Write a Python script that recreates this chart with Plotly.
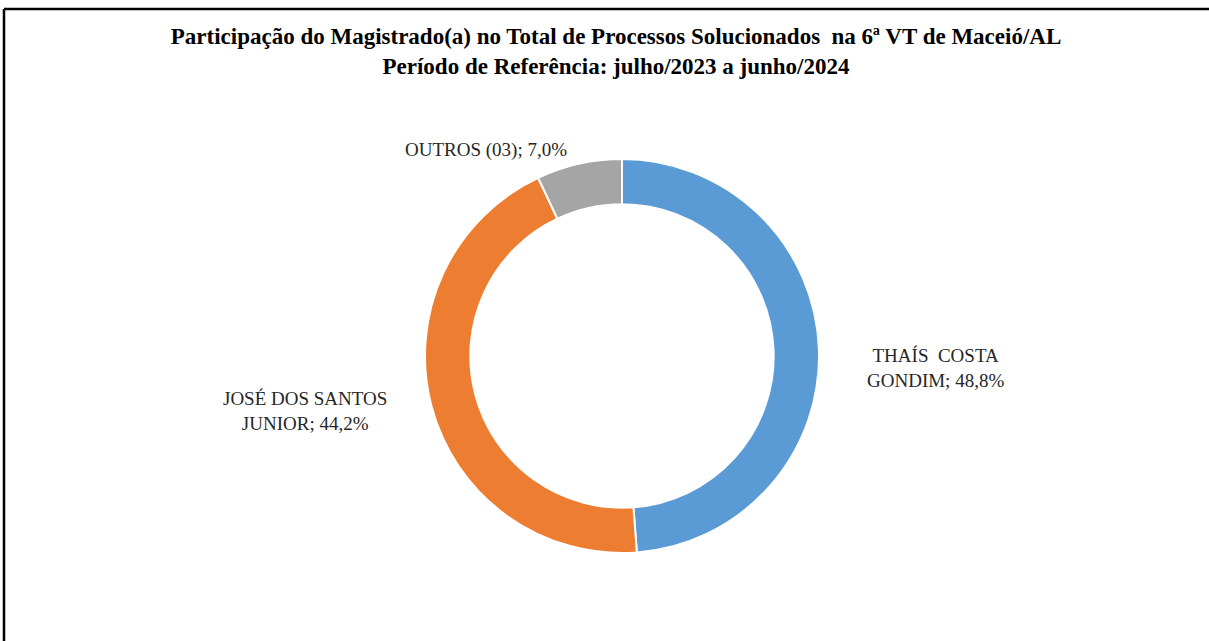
import plotly.graph_objects as go

labels = ["THAÍS  COSTA<br>GONDIM", "JOSÉ DOS SANTOS<br>JUNIOR", "OUTROS (03)"]
values = [48.8, 44.2, 7.0]
colors = ["#5B9BD5", "#ED7D31", "#A5A5A5"]

W, H = 1209, 641
L, R, T, B = 60, 25, 159, 88
PW, PH = W - L - R, H - T - B

def px(x):
    return (x - L) / PW

def py(y):
    return 1 - (y - T) / PH

fig = go.Figure(go.Pie(
    labels=labels, values=values, hole=0.77, sort=False,
    direction="clockwise", rotation=0,
    marker=dict(colors=colors, line=dict(color="white", width=2)),
    textinfo="none", hoverinfo="label+percent", showlegend=False,
))

label_pos = [(935, 368), (305, 411), (486, 150)]
for lab, v, (x, y) in zip(labels, values, label_pos):
    txt = f"{lab}; {v:.1f}%".replace(".", ",")
    fig.add_annotation(x=px(x), y=py(y), xref="paper", yref="paper",
                       xanchor="center", yanchor="middle",
                       text=txt, showarrow=False, align="center",
                       font=dict(family="Liberation Serif", size=19, color="#262626"))

# frame of the original image (top and left edges visible)
fig.add_shape(type="line", xref="paper", yref="paper",
              x0=px(4), x1=px(1215), y0=py(9), y1=py(9),
              line=dict(color="black", width=2.5))
fig.add_shape(type="line", xref="paper", yref="paper",
              x0=px(4), x1=px(4), y0=py(9), y1=py(650),
              line=dict(color="black", width=2.5))

fig.update_layout(
    width=W, height=H,
    margin=dict(l=L, r=R, t=T, b=B),
    paper_bgcolor="white", plot_bgcolor="white",
    title=dict(
        text="<b>Participação do Magistrado(a) no Total de Processos Solucionados  na 6ª VT de Maceió/AL<br>Período de Referência: julho/2023 a junho/2024</b>",
        x=px(616), xanchor="center", xref="paper", y=1 - 44 / H, yanchor="middle",
        font=dict(family="Liberation Serif", size=23, color="black"),
    ),
)

fig.write_html("out.html", config={"displayModeBar": False},
               post_script="document.body.style.margin='0';")
